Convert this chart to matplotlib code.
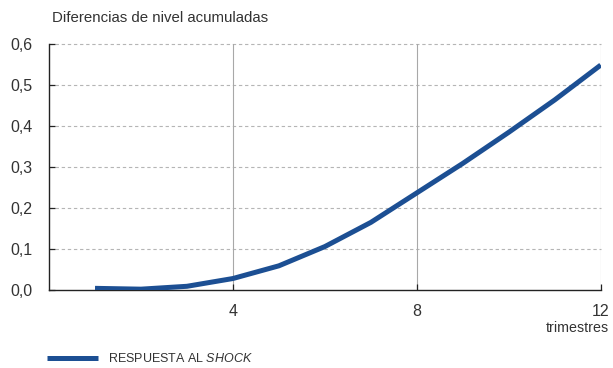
import matplotlib
matplotlib.use("Agg")
import matplotlib.pyplot as plt
from matplotlib.ticker import FuncFormatter

plt.rcParams['font.family'] = ['Liberation Sans', 'DejaVu Sans']
plt.rcParams['mathtext.fontset'] = 'custom'
plt.rcParams['mathtext.it'] = 'Liberation Sans:italic'
plt.rcParams['mathtext.rm'] = 'Liberation Sans'

quarters = [1, 2, 3, 4, 5, 6, 7, 8, 9, 10, 11, 12]
response = [0.004, 0.002, 0.009, 0.028, 0.059, 0.106, 0.165, 0.237, 0.309, 0.385, 0.464, 0.549]
x_ticks = [4, 8, 12]
y_ticks = [0.0, 0.1, 0.2, 0.3, 0.4, 0.5, 0.6]

line_color = '#1c4f93'
text_color = '#333333'

fig = plt.figure(figsize=(6.13, 3.68), dpi=100)
ax = fig.add_axes([0.080, 0.212, 0.900, 0.668])

ax.plot(quarters, response, color=line_color, lw=3.6, solid_capstyle='butt',
        label=r'RESPUESTA AL $\mathit{SHOCK}$', zorder=3)

ax.set_xlim(0, 12)
ax.set_ylim(0, 0.6)
ax.set_xticks(x_ticks)
ax.set_yticks(y_ticks)
ax.yaxis.set_major_formatter(FuncFormatter(lambda v, p: f"{v:.1f}".replace('.', ',')))

for y in y_ticks[1:]:
    ax.axhline(y, color='#b5b5b5', lw=0.8, ls=(0, (3, 2.5)), zorder=1, clip_on=False)
for x in x_ticks:
    ax.axvline(x, color='#a8a8a8', lw=0.8, zorder=1)

for s in ['top', 'right']:
    ax.spines[s].set_visible(False)
for s in ['left', 'bottom']:
    ax.spines[s].set_color('#222222')
    ax.spines[s].set_linewidth(1.0)

ax.tick_params(axis='both', direction='in', length=4, width=0.9, color='#222222',
               labelsize=11.5, labelcolor=text_color)
ax.tick_params(axis='y', pad=12)
ax.tick_params(axis='x', pad=10)

fig.text(0.085, 0.950, 'Diferencias de nivel acumuladas', fontsize=10.8,
         color=text_color, ha='left', va='center')
fig.text(0.993, 0.108, 'trimestres', fontsize=10.3, color=text_color,
         ha='right', va='center')

leg = fig.legend(loc='center left', bbox_to_anchor=(0.0585, 0.025), frameon=False,
                 handlelength=4.1, handletextpad=0.8, fontsize=9,
                 labelcolor=text_color)

fig.savefig('out.png', dpi=100)
